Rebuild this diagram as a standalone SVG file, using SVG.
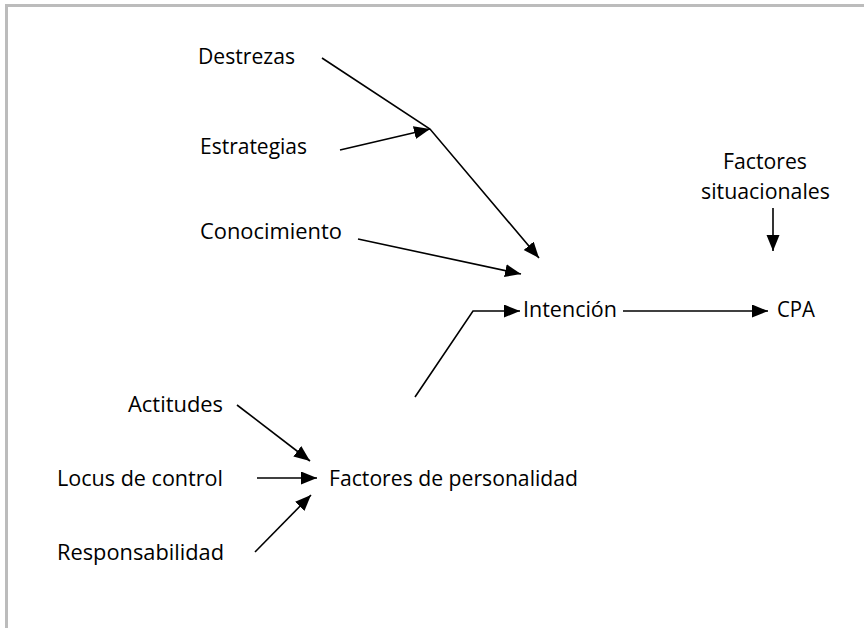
<svg xmlns="http://www.w3.org/2000/svg" width="864" height="628" viewBox="0 0 864 628">
<defs>
<marker id="ah" markerUnits="userSpaceOnUse" markerWidth="17" markerHeight="14" refX="16" refY="6.5" orient="auto">
<path d="M0,0 L16,6.5 L0,13 Z" fill="#000"/>
</marker>
<style>
text{font-family:"Open Sans","Noto Sans",sans-serif;font-size:22px;fill:#000;}
.s{font-size:21px;}
.c{fill:none;stroke:#000;stroke-width:1.6;}
</style>
</defs>
<rect width="864" height="628" fill="#fff"/>
<path d="M6.5,628 V5.5 H864" fill="none" stroke="#bcbcbc" stroke-width="3"/>
<g id="connectors">
<polyline class="c" points="322,58 430,129 539,258" marker-end="url(#ah)"/>
<line class="c" x1="340" y1="150" x2="430" y2="129" marker-end="url(#ah)"/>
<line class="c" x1="358" y1="239" x2="521" y2="274" marker-end="url(#ah)"/>
<polyline class="c" points="415,397 473,311 520,311" marker-end="url(#ah)"/>
<line class="c" x1="623" y1="311" x2="768" y2="311" marker-end="url(#ah)"/>
<line class="c" x1="773" y1="208" x2="773" y2="251" marker-end="url(#ah)"/>
<line class="c" x1="237" y1="405" x2="310" y2="461" marker-end="url(#ah)"/>
<line class="c" x1="257" y1="478" x2="317" y2="478" marker-end="url(#ah)"/>
<line class="c" x1="255" y1="552" x2="311" y2="495" marker-end="url(#ah)"/>
</g>
<g id="destrezas"><text x="198" y="64" textLength="97" lengthAdjust="spacingAndGlyphs">Destrezas</text></g>
<g id="estrategias"><text x="200" y="154" textLength="107" lengthAdjust="spacingAndGlyphs">Estrategias</text></g>
<g id="conocimiento"><text x="200" y="239" textLength="142" lengthAdjust="spacingAndGlyphs">Conocimiento</text></g>
<g id="factores-situacionales">
<text class="s" x="723" y="169" textLength="84" lengthAdjust="spacingAndGlyphs">Factores</text>
<text class="s" x="701" y="199" textLength="129" lengthAdjust="spacingAndGlyphs">situacionales</text>
</g>
<g id="intencion"><text x="523" y="317" textLength="94" lengthAdjust="spacingAndGlyphs">Intención</text></g>
<g id="cpa"><text x="777" y="317" textLength="38" lengthAdjust="spacingAndGlyphs">CPA</text></g>
<g id="actitudes"><text x="128" y="412" textLength="95" lengthAdjust="spacingAndGlyphs">Actitudes</text></g>
<g id="locus"><text x="57" y="486" textLength="166" lengthAdjust="spacingAndGlyphs">Locus de control</text></g>
<g id="factores-personalidad"><text x="329" y="486" textLength="249" lengthAdjust="spacingAndGlyphs">Factores de personalidad</text></g>
<g id="responsabilidad"><text x="57" y="560" textLength="167" lengthAdjust="spacingAndGlyphs">Responsabilidad</text></g>
</svg>
